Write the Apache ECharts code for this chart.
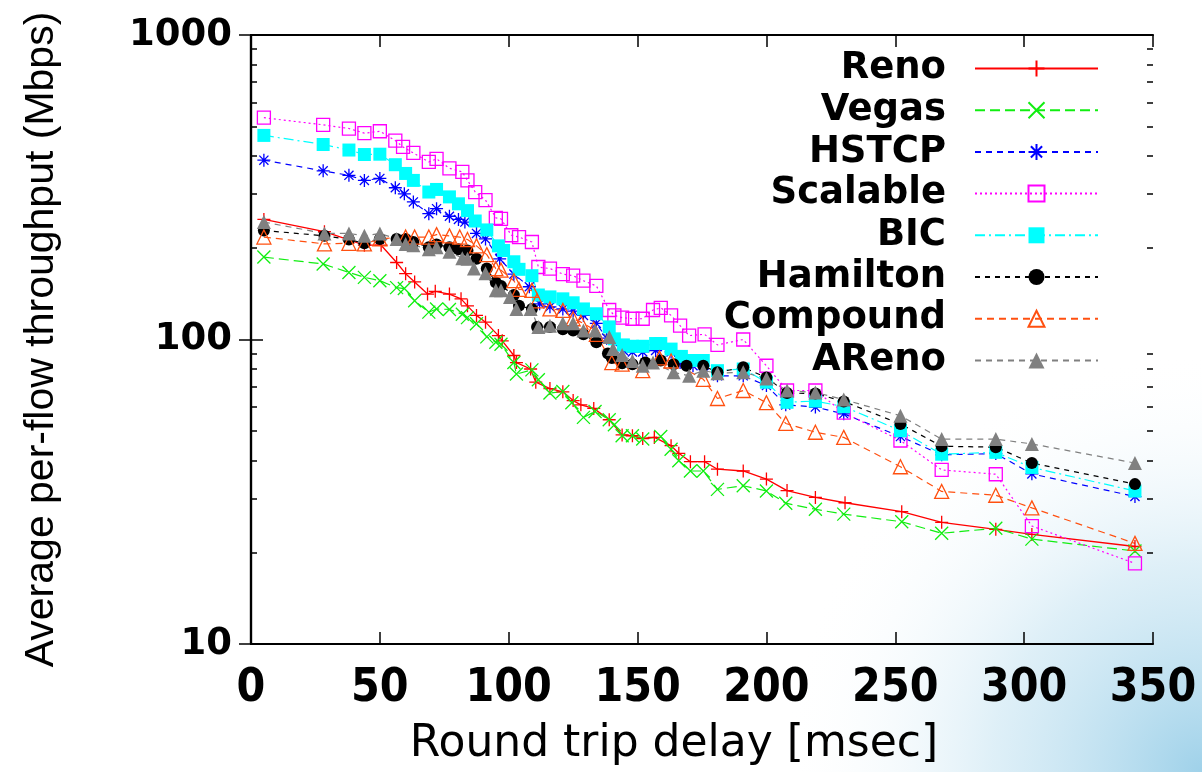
<!DOCTYPE html>
<html><head><meta charset="utf-8">
<script src="https://cdn.jsdelivr.net/npm/echarts@6/dist/echarts.min.js"></script>
<style>html,body{margin:0;padding:0;background:#fff}#c{width:1202px;height:772px}</style>
</head><body><div id="c"></div>
<script>
const seriesNames = ['Reno','Vegas','HSTCP','Scalable','BIC','Hamilton','Compound','AReno'];
const xTicks = [0,50,100,150,200,250,300,350];
const yMajorTicks = [10,100,1000];
const yMinorTicks = [20,30,40,50,60,70,80,90,200,300,400,500,600,700,800,900];

const reno = [[5,248],[28.5,226],[44,204],[50.5,204],[56.5,179],[60,164.5],[63.5,154.5],[68.5,141],[71.5,144],[77,141],[81.5,136],[84,129],[87.5,120],[91,114],[96,103],[97.5,99],[102,88.6],[103,84],[108.5,80],[110.5,72.4],[116,69],[121,67.3],[125,63],[128,61],[133,59.4],[139,54.5],[144,48.6],[148,48.3],[152,47.3],[156.5,47.7],[163,44.8],[166,42.3],[170.5,39.7],[176,39.7],[181,37.5],[191,37],[200,34.8],[208,31.9],[219,30.3],[230.5,29.1],[252.5,27.2],[268,25.1],[289,23.8],[303,22.9],[343,20.9]];
const vegas = [[5,186.5],[28,177],[38,166],[44,160],[50,156],[56.5,148],[59.5,147],[63.5,134],[69,123],[72,126],[77,125.5],[82,121],[84,118],[87.5,112.6],[91.5,102],[95,98],[97,96.5],[102,84],[103,77],[109,79.5],[111.5,73.8],[116,66.7],[121,67.5],[124.5,62],[129,55.5],[133.5,58],[139,54.5],[141,52.5],[144,48.3],[148,48.3],[152,47.1],[159,48],[163,43.6],[166,40],[170.5,37],[175.5,37],[181,32.2],[191,33.1],[200,31.8],[207.5,29],[219,27.7],[230,26.7],[252.5,25.2],[268,23.1],[289,24],[303,22.1],[343,20.2]];
const hstcp = [[5,388],[28,358],[38,346],[44,333],[50,338],[56,315],[59.5,301],[63,283],[69,259],[72,269],[77,254],[80.5,248],[83,243],[87.5,223],[91,214],[96.5,184],[102,164],[108,149],[112,131],[116,128],[121,126],[125,124],[129,120],[134,113],[138,101],[144.5,92],[148,91],[152,91],[157,92],[163,91],[166.5,84],[171.5,82],[175.5,82],[181,76],[191,76],[200,70.6],[207.5,61],[219,60],[230,57],[252,48],[268,41.8],[289,42.2],[303,36.2],[343,30.5]];
const scalable = [[5,535],[28,507],[38,493],[44,476],[50,483],[56,450],[59,429],[63,410],[69,383],[72,392],[77,365],[82,355],[84,333],[87,305],[91,287],[95,251],[97,249],[101,220],[104,217],[109,209],[111.5,173],[116,171],[121,164],[125,162],[129,156],[134,150],[139,125],[141,120],[144,118],[148,117],[152,117],[156,125],[159,127],[163,120],[166.5,111],[170,103],[176,104],[181,96],[191,100],[200,82],[208,68],[219,68],[230,57.5],[252,46.6],[268,37.3],[289,36.1],[303,24.4],[343,18.4]];
const bic = [[5,468],[28,437],[38,419],[44,405],[50,406],[56,375],[60,351],[63,333],[69,305],[72,311],[77,294],[80.5,279],[84,265],[87,245],[91.5,229],[96,203],[98,196],[102,180],[104,170],[109,162],[111.5,140],[116,138],[121,136],[125,132],[129,126],[134,121.5],[139,110],[141,100.5],[144.5,96],[148,95],[152,95],[157,97],[159,97],[163,93],[167,88],[171,85.3],[175.5,85.3],[181,79],[191,80],[200,72.4],[208,62.2],[219,62.8],[230,60.2],[252,50.2],[268,42],[289,42.6],[303,38],[343,31.8]];
const hamilton = [[5,228],[28.5,219],[38,213],[44,207],[50,214],[56.5,214],[60,214],[63,209],[69,201],[72,205],[77,201],[80.5,198],[84,196],[87.5,184],[91.5,171],[95,154],[97,150],[102,140],[104,129],[109,126],[111,110],[116,110],[121,108],[125,107],[129,104],[134,98],[138.5,90],[140,87],[144,83.5],[148,83],[153,84],[159,85.3],[164,83],[169,82],[175.5,82],[181,78],[191,81],[200,75],[208,66.7],[219,66.5],[230,62.6],[252,52.8],[268,44.6],[289,44.3],[303,39.3],[343,33.5]];
const compound = [[5,217],[28.5,206],[38,207],[44,206],[50,214],[60,217],[63.5,217],[69,217],[72,221],[77,219],[81,217],[84,213],[87.5,203],[91.5,190],[95,171],[97,169],[102,156],[104,146],[109,145],[111,134],[116,126],[121,124.6],[125,117],[128,114],[133,108],[134,104],[140,84],[144,83],[152,79],[158.5,87],[163,85],[175.5,74],[181,64],[191,68],[200,62],[207.5,53],[219,49.6],[230,47.7],[252,38.2],[268,31.7],[289,30.8],[303,28],[343,21.4]];
const areno = [[5,243],[28.5,223],[38,223],[44,219],[50,223],[56.5,214],[60,206],[63,204],[69,198],[72,201],[77,194],[82,185],[84,184],[86.5,171],[91,165],[95,145],[97,145],[100.5,138],[103,126],[108.5,126],[111.5,110],[116,111],[121,113],[125,113],[129,107],[133.5,107],[139,102],[140.5,93],[144,89],[148,85],[152,82],[156,84],[164,78],[170,76],[175.5,79],[181,77.5],[191,78],[200,74.5],[208,68],[219,67],[230,63.5],[252,56.2],[268,47.1],[289,47.1],[303,45.4],[343,39.3]];

const PLUS = 'path://M0,5L10,5M5,0L5,10';
const CROSS = 'path://M0,0L10,10M10,0L0,10';
const STAR = 'path://M0,5L10,5M5,0L5,10M1.5,1.5L8.5,8.5M8.5,1.5L1.5,8.5';
const NONE = 'rgba(0,0,0,0)';

function mk(name, data, color, dash, symbol, size, filled, lw) {
  return {
    name: name, type: 'line', data: data,
    symbol: symbol, symbolSize: size, symbolKeepAspect: true,
    lineStyle: {color: color, width: lw || 1.2, type: dash},
    itemStyle: filled ? {color: color, borderWidth: 0} : {color: NONE, borderColor: color, borderWidth: 1.3},
    emphasis: {disabled: true},
    animation: false, clip: true
  };
}

const series = [
  mk('Reno', reno, '#ff0000', 'solid', PLUS, 13, false, 1.3),
  mk('Vegas', vegas, '#11ee11', [10,5], CROSS, 13, false),
  mk('HSTCP', hstcp, '#0000ff', [6,5], STAR, 13, false),
  mk('Scalable', scalable, '#ff00ff', [2,3], 'rect', 13, false),
  mk('BIC', bic, '#00ffff', [10,4,2,4], 'rect', 13, true),
  mk('Hamilton', hamilton, '#000000', [5,5], 'circle', 12, true),
  mk('Compound', compound, '#ff5010', [7,5], 'triangle', 14, false),
  mk('AReno', areno, '#808080', [6,5], 'triangle', 14, true)
];

// minor ticks are drawn on helper value axes that span log10(10)..log10(1000)
const minorTickPos = yMinorTicks.map(function (v) { return Math.log10(v); });

const chart = echarts.init(document.getElementById('c'), null, {renderer: 'canvas'});
const axisLineStyle = {color: '#000', width: 2.2};
const labelFontY = {fontFamily: 'DejaVu Sans', fontWeight: 'bold', fontSize: 37, color: '#000'};

function minorAxis(pos) {
  return {
    type: 'value', min: 1, max: 3, position: pos,
    axisLine: {show: false},
    axisTick: {show: true, inside: true, length: 6, lineStyle: {color: '#000', width: 1.5}, customValues: minorTickPos},
    axisLabel: {show: false}, splitLine: {show: false}
  };
}

chart.setOption({
  backgroundColor: '#ffffff',
  animation: false,
  graphic: [{
    type: 'rect', z: -100, silent: true,
    shape: {x: 760, y: 352, width: 442, height: 420},
    style: {fill: {type: 'radial', x: 1, y: 1, r: 1, colorStops: [
      {offset: 0, color: 'rgba(135,198,228,0.8)'},
      {offset: 0.5, color: 'rgba(190,224,240,0.5)'},
      {offset: 1, color: 'rgba(255,255,255,0)'}]}}
  }],
  grid: {left: 251, right: 49, top: 35, bottom: 128, containLabel: false},
  legend: {
    orient: 'vertical', align: 'right', right: 103, top: 50, padding: 0,
    itemWidth: 123, itemHeight: 20, itemGap: 4.7,
    data: seriesNames,
    textStyle: {fontFamily: 'DejaVu Sans', fontWeight: 'bold', fontSize: 37, color: '#000', lineHeight: 36, padding: [0, 24, 0, 0]}
  },
  xAxis: [{
    type: 'value', min: 0, max: 350, interval: 50, position: 'bottom',
    axisLine: {show: true, lineStyle: axisLineStyle},
    axisTick: {show: true, inside: true, length: 12, lineStyle: {color: '#000', width: 1.5}},
    axisLabel: {margin: 22, fontFamily: "'Liberation Sans Narrow','DejaVu Sans Condensed','Liberation Sans'", fontWeight: 'bold', fontSize: 46, color: '#000',
      formatter: function (v) { return xTicks.indexOf(v) >= 0 ? String(v) : ''; }},
    splitLine: {show: false},
    name: 'Round trip delay [msec]', nameLocation: 'middle', nameGap: 79,
    nameTextStyle: {fontFamily: 'DejaVu Sans', fontSize: 44, color: '#000', padding: [0, 56, 0, 0]}
  }, {
    type: 'value', min: 0, max: 350, interval: 50, position: 'top',
    axisLine: {show: true, lineStyle: axisLineStyle},
    axisTick: {show: true, inside: true, length: 12, lineStyle: {color: '#000', width: 1.5}},
    axisLabel: {show: false}, splitLine: {show: false}
  }],
  yAxis: [{
    type: 'log', logBase: 10, min: 10, max: 1000, position: 'left',
    axisLine: {show: true, lineStyle: axisLineStyle},
    axisTick: {show: true, inside: true, length: 12, lineStyle: {color: '#000', width: 1.5}},
    axisLabel: Object.assign({margin: 19, formatter: function (v) { return yMajorTicks.indexOf(Math.round(v)) >= 0 ? String(Math.round(v)) : ''; }}, labelFontY),
    splitLine: {show: false},
    name: 'Average per-flow throughput (Mbps)', nameLocation: 'middle', nameGap: 189, nameRotate: 90,
    nameTextStyle: {fontFamily: 'Liberation Sans', fontSize: 41, color: '#000'}
  }, {
    type: 'log', logBase: 10, min: 10, max: 1000, position: 'right',
    axisLine: {show: true, lineStyle: axisLineStyle},
    axisTick: {show: true, inside: true, length: 12, lineStyle: {color: '#000', width: 1.5}},
    axisLabel: {show: false}, splitLine: {show: false}
  }, minorAxis('left'), minorAxis('right')],
  series: series
});
</script></body></html>
